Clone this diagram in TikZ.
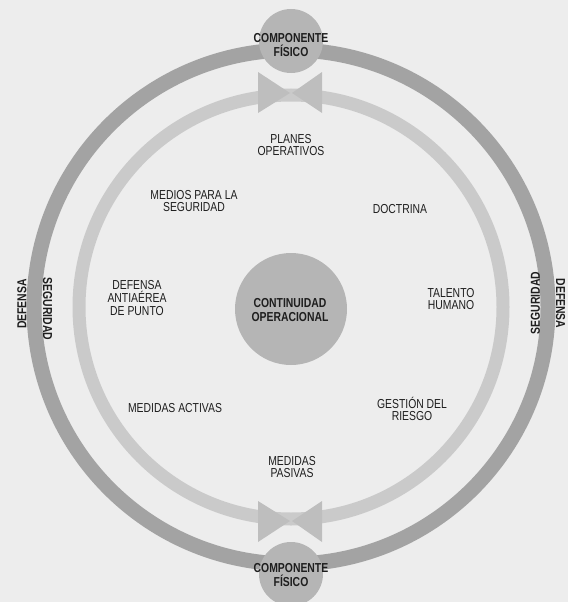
\documentclass[tikz,border=0pt]{standalone}
\usepackage{fontspec}
\setmainfont[FakeStretch=0.8]{Liberation Sans}
\definecolor{bgc}{HTML}{EDEDED}
\definecolor{darkring}{HTML}{A3A3A3}
\definecolor{lightring}{HTML}{CACACA}
\definecolor{discc}{HTML}{B5B5B5}
\definecolor{bowc}{HTML}{BEBEBE}
\definecolor{ink}{HTML}{1E1E1E}
\begin{document}
\begin{tikzpicture}[x=1pt,y=-1pt,
  lab/.style={text=ink, font=\fontsize{13pt}{12.8pt}\selectfont, align=center, inner sep=0pt},
  blab/.style={lab, font=\fontsize{13pt}{13.5pt}\selectfont\bfseries},
  disc/.style={circle, fill=discc, inner sep=0pt},
  bowtie/.style={fill=bowc}]
\useasboundingbox (0,0) rectangle (568,602);
\clip (0,0) rectangle (568,602);
\fill[bgc] (0,0) rectangle (568,602);
\coordinate (C) at (291,307);
% rings
\draw[lightring, line width=13pt] (C) circle[radius=212pt];
\draw[darkring, line width=15pt] (C) circle[radius=257pt];
% bowties
\fill[bowtie] (258,72) -- (258,113) -- (290,93) -- cycle;
\fill[bowtie] (322,72) -- (322,113) -- (292,93) -- cycle;
\fill[bowtie] (258,501) -- (258,542) -- (290,521) -- cycle;
\fill[bowtie] (322,501) -- (322,542) -- (292,521) -- cycle;
% discs
\node[disc, minimum size=64pt] (topc) at (291,41) {};
\node[disc, minimum size=64pt] (botc) at (291,574) {};
\node[disc, minimum size=112pt] (centc) at (291,309) {};
\node[blab] (topt) at (291,45) {COMPONENTE\\FÍSICO};
\node[blab] (bott) at (291,575) {COMPONENTE\\FÍSICO};
\node[blab] (centt) at (290,310) {CONTINUIDAD\\OPERACIONAL};
% side labels
\node[blab, rotate=90] (defl) at (22,304) {DEFENSA};
\node[blab, rotate=-90] (segl) at (47.5,309) {SEGURIDAD};
\node[blab, rotate=90] (segr) at (535.5,303) {SEGURIDAD};
\node[blab, rotate=-90] (defr) at (560.5,303.5) {DEFENSA};
% inner labels
\node[lab] (planes) at (291,145) {PLANES\\OPERATIVOS};
\node[lab] (medios) at (194,201) {MEDIOS PARA LA\\SEGURIDAD};
\node[lab] (doctrina) at (400,209) {DOCTRINA};
\node[lab] (talento) at (451,299) {TALENTO\\HUMANO};
\node[lab] (antiaerea) at (137,298) {DEFENSA\\ANTIAÉREA\\DE PUNTO};
\node[lab] (activas) at (175,408) {MEDIDAS ACTIVAS};
\node[lab] (riesgo) at (412,409) {GESTIÓN DEL\\RIESGO};
\node[lab] (pasivas) at (292,467) {MEDIDAS\\PASIVAS};
\end{tikzpicture}
\end{document}
